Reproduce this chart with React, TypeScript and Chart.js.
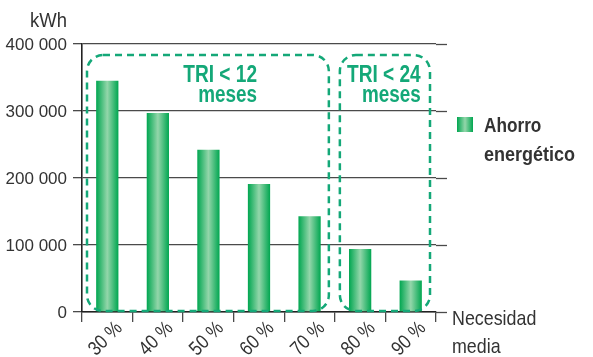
import { useEffect, useRef } from "react";
import { Chart, registerables } from "chart.js";

Chart.register(...registerables);

// Energy savings by level of average need
const categories = ["30 %", "40 %", "50 %", "60 %", "70 %", "80 %", "90 %"];
const savings = [345000, 297000, 242000, 191000, 143000, 94000, 47000];
const yTickValues = [0, 100000, 200000, 300000, 400000];
const yTickLabels = ["0", "100 000", "200 000", "300 000", "400 000"];
const unitLabel = "kWh";
const seriesLabel = ["Ahorro", "energético"];
const xAxisLabel = ["Necesidad", "media"];
// Payback groups: first/last category index and caption lines
const groupFirst = [0, 5];
const groupLast = [4, 6];
const groupCaptions = [
  ["TRI < 12", "meses"],
  ["TRI < 24", "meses"],
];

const GREEN_EDGE = "#00a650";
const GREEN_MID = "#93d6aa";
const TEAL = "#14a878";
const TEXT = "#333333";
const GRID = "#4a4a4a";
const FONT = "'Liberation Sans', Arial, sans-serif";

function barGradient(ctx: CanvasRenderingContext2D, left: number, right: number) {
  const g = ctx.createLinearGradient(left, 0, right, 0);
  g.addColorStop(0, GREEN_EDGE);
  g.addColorStop(0.5, GREEN_MID);
  g.addColorStop(1, GREEN_EDGE);
  return g;
}

// Draws condensed text by squeezing the x axis
function narrowText(
  ctx: CanvasRenderingContext2D,
  text: string,
  x: number,
  y: number,
  align: CanvasTextAlign,
  squeeze: number
) {
  ctx.save();
  ctx.translate(x, y);
  ctx.scale(squeeze, 1);
  ctx.textAlign = align;
  ctx.fillText(text, 0, 0);
  ctx.restore();
}

const decorations = {
  id: "decorations",
  afterDraw(chart: any) {
    const { ctx, chartArea, scales } = chart;
    const x = scales.x;
    const y = scales.y;
    const band = x.width / categories.length;
    const extendTo = chartArea.right + 11;

    ctx.save();
    // horizontal grid lines and x axis run a little past the last category
    ctx.strokeStyle = GRID;
    ctx.lineWidth = 1.3;
    yTickValues.forEach((v) => {
      const py = Math.round(y.getPixelForValue(v)) + 0.5;
      ctx.beginPath();
      ctx.moveTo(chartArea.right, py);
      ctx.lineTo(extendTo, py);
      ctx.stroke();
    });

    // y tick labels
    ctx.fillStyle = TEXT;
    ctx.font = `17px ${FONT}`;
    ctx.textBaseline = "middle";
    ctx.textAlign = "right";
    yTickValues.forEach((v, i) => {
      ctx.fillText(yTickLabels[i], chartArea.left - 15, y.getPixelForValue(v) + 1);
    });

    // unit label
    ctx.textBaseline = "alphabetic";
    ctx.font = `21px ${FONT}`;
    narrowText(ctx, unitLabel, chartArea.left - 15, 27, "right", 0.88);

    // rotated category labels
    ctx.font = `20px ${FONT}`;
    categories.forEach((c, i) => {
      const cx = x.getPixelForValue(i);
      ctx.save();
      ctx.translate(cx + 16, chartArea.bottom + 17);
      ctx.rotate(-Math.PI / 4);
      ctx.scale(0.85, 1);
      ctx.textAlign = "right";
      ctx.fillText(c, 0, 0);
      ctx.restore();
    });

    // x axis name
    ctx.font = `21px ${FONT}`;
    narrowText(ctx, xAxisLabel[0], chartArea.right + 16, 325, "left", 0.85);
    narrowText(ctx, xAxisLabel[1], chartArea.right + 16, 353, "left", 0.85);

    // legend
    const lx = chartArea.right + 21;
    const ly = 117;
    ctx.fillStyle = barGradient(ctx, lx, lx + 16);
    ctx.fillRect(lx, ly, 16, 15);
    ctx.fillStyle = TEXT;
    ctx.font = `bold 20px ${FONT}`;
    narrowText(ctx, seriesLabel[0], lx + 27, 132, "left", 0.86);
    narrowText(ctx, seriesLabel[1], lx + 27, 161, "left", 0.9);

    // dashed payback groups
    const top = y.getPixelForValue(383500);
    const bottom = chartArea.bottom - 1;
    ctx.strokeStyle = TEAL;
    ctx.lineWidth = 2.5;
    ctx.setLineDash([7, 5]);
    groupFirst.forEach((first, gi) => {
      const last = groupLast[gi];
      const l = x.getPixelForValue(first) - band / 2 + 5;
      const r = x.getPixelForValue(last) + band / 2 - 6;
      ctx.beginPath();
      ctx.roundRect(l, top, r - l, bottom - top, 16);
      ctx.stroke();
    });
    ctx.setLineDash([]);

    // group captions
    ctx.fillStyle = TEAL;
    ctx.font = `bold 23px ${FONT}`;
    const captionRight = [
      x.getPixelForValue(3) - 2,
      x.getPixelForValue(6) + 10,
    ];
    groupCaptions.forEach((lines, gi) => {
      narrowText(ctx, lines[0], captionRight[gi], 82, "right", 0.83);
      narrowText(ctx, lines[1], captionRight[gi], 102, "right", 0.82);
    });

    ctx.restore();
  },
};

export default function App() {
  const canvasRef = useRef<HTMLCanvasElement | null>(null);

  useEffect(() => {
    const canvas = canvasRef.current;
    if (!canvas) return;
    const chart = new Chart(canvas, {
      type: "bar",
      data: {
        labels: categories,
        datasets: [
          {
            label: seriesLabel.join(" "),
            data: savings,
            backgroundColor: (c: any) => {
              const ch = c.chart;
              const xs = ch.scales?.x;
              if (!ch.chartArea || !xs) return GREEN_EDGE;
              const band = xs.width / categories.length;
              const w = band * 0.44;
              const cx = xs.getPixelForValue(c.dataIndex);
              return barGradient(ch.ctx, cx - w / 2, cx + w / 2);
            },
            borderWidth: 0,
            barPercentage: 0.44,
            categoryPercentage: 1,
          },
        ],
      },
      options: {
        responsive: false,
        animation: false,
        layout: { padding: { left: 73, right: 157, top: 44, bottom: 35 } },
        plugins: {
          legend: { display: false },
          tooltip: { enabled: false },
        },
        scales: {
          x: {
            offset: true,
            ticks: { display: false },
            grid: {
              offset: true,
              drawOnChartArea: false,
              drawTicks: true,
              tickLength: 10,
              color: GRID,
              lineWidth: 1.3,
            },
            border: { display: true, color: "#222", width: 1.6 },
          },
          y: {
            min: 0,
            max: 400000,
            ticks: { display: false, stepSize: 100000 },
            grid: {
              drawTicks: true,
              tickLength: 9,
              color: GRID,
              lineWidth: 1.3,
            },
            border: { display: true, color: "#222", width: 1.6 },
          },
        },
      },
      plugins: [decorations],
    });
    return () => chart.destroy();
  }, []);

  return (
    <div style={{ position: "fixed", left: 0, top: 0, width: 593, height: 357, background: "#fff" }}>
      <canvas ref={canvasRef} width={593} height={357} />
    </div>
  );
}
